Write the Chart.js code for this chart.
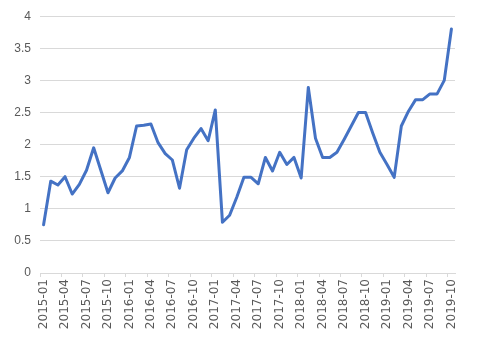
<!DOCTYPE html>
<html>
<head>
<meta charset="utf-8">
<script src="https://cdn.jsdelivr.net/npm/chart.js@4/dist/chart.umd.min.js"></script>
<style>
  body { margin: 0; background: #fff; }
  #wrap { width: 483px; height: 341px; }
</style>
</head>
<body>
<div id="wrap"><canvas id="chart" width="483" height="341"></canvas></div>
<script>
// monthly labels, 2015-01 .. 2019-10
const months = [
  "2015-01", "2015-02", "2015-03", "2015-04", "2015-05", "2015-06",
  "2015-07", "2015-08", "2015-09", "2015-10", "2015-11", "2015-12",
  "2016-01", "2016-02", "2016-03", "2016-04", "2016-05", "2016-06",
  "2016-07", "2016-08", "2016-09", "2016-10", "2016-11", "2016-12",
  "2017-01", "2017-02", "2017-03", "2017-04", "2017-05", "2017-06",
  "2017-07", "2017-08", "2017-09", "2017-10", "2017-11", "2017-12",
  "2018-01", "2018-02", "2018-03", "2018-04", "2018-05", "2018-06",
  "2018-07", "2018-08", "2018-09", "2018-10", "2018-11", "2018-12",
  "2019-01", "2019-02", "2019-03", "2019-04", "2019-05", "2019-06",
  "2019-07", "2019-08", "2019-09", "2019-10"
];

const values = [
  0.75, 1.43, 1.37, 1.50, 1.23, 1.38, 1.60, 1.95, 1.60, 1.25, 1.48, 1.59,
  1.80, 2.29, 2.30, 2.32, 2.03, 1.86, 1.76, 1.32, 1.92, 2.10, 2.25, 2.06,
  2.54, 0.79, 0.90, 1.18, 1.49, 1.49, 1.39, 1.80, 1.59, 1.88, 1.69, 1.80,
  1.48, 2.89, 2.10, 1.80, 1.80, 1.88, 2.08, 2.29, 2.50, 2.50, 2.18, 1.88,
  1.69, 1.49, 2.29, 2.52, 2.70, 2.70, 2.79, 2.79, 3.00, 3.80
];

const yTicks = [0, 0.5, 1, 1.5, 2, 2.5, 3, 3.5, 4];

const labelEvery = 3; // show every quarter on the x axis
const gridColor = "#d9d9d9";
const textColor = "#595959";

new Chart(document.getElementById("chart"), {
  type: "line",
  data: {
    labels: months,
    datasets: [
      {
        data: values,
        borderColor: "#4472c4",
        borderWidth: 3,
        pointRadius: 0,
        tension: 0,
        borderJoinStyle: "round",
        borderCapStyle: "round",
      },
    ],
  },
  options: {
    responsive: false,
    animation: false,
    layout: {
      padding: { left: 0, right: 28, top: 7, bottom: 0 },
    },
    plugins: {
      legend: { display: false },
      tooltip: { enabled: false },
    },
    scales: {
      x: {
        offset: true,
        grid: {
          offset: true,
          drawOnChartArea: false,
          drawTicks: true,
          tickLength: 4,
          color: (ctx) => (ctx.index % labelEvery === 0 ? gridColor : "rgba(0,0,0,0)"),
        },
        border: { color: gridColor },
        ticks: {
          autoSkip: false,
          minRotation: 90,
          maxRotation: 90,
          padding: 2,
          color: textColor,
          font: { family: "DejaVu Sans", size: 12 },
          callback: function (value, index) {
            return index % labelEvery === 0 ? months[index] : "";
          },
        },
        afterFit: (scale) => {
          scale.height = 68;
        },
      },
      y: {
        min: yTicks[0],
        max: yTicks[yTicks.length - 1],
        border: { display: false },
        grid: { color: gridColor, drawTicks: false },
        afterBuildTicks: (scale) => {
          scale.ticks = yTicks.map((v) => ({ value: v }));
        },
        ticks: {
          padding: 9,
          color: textColor,
          font: { family: "Liberation Sans", size: 12 },
          callback: (value) => String(value),
        },
        afterFit: (scale) => {
          scale.width = 40;
        },
      },
    },
  },
});
</script>
</body>
</html>
